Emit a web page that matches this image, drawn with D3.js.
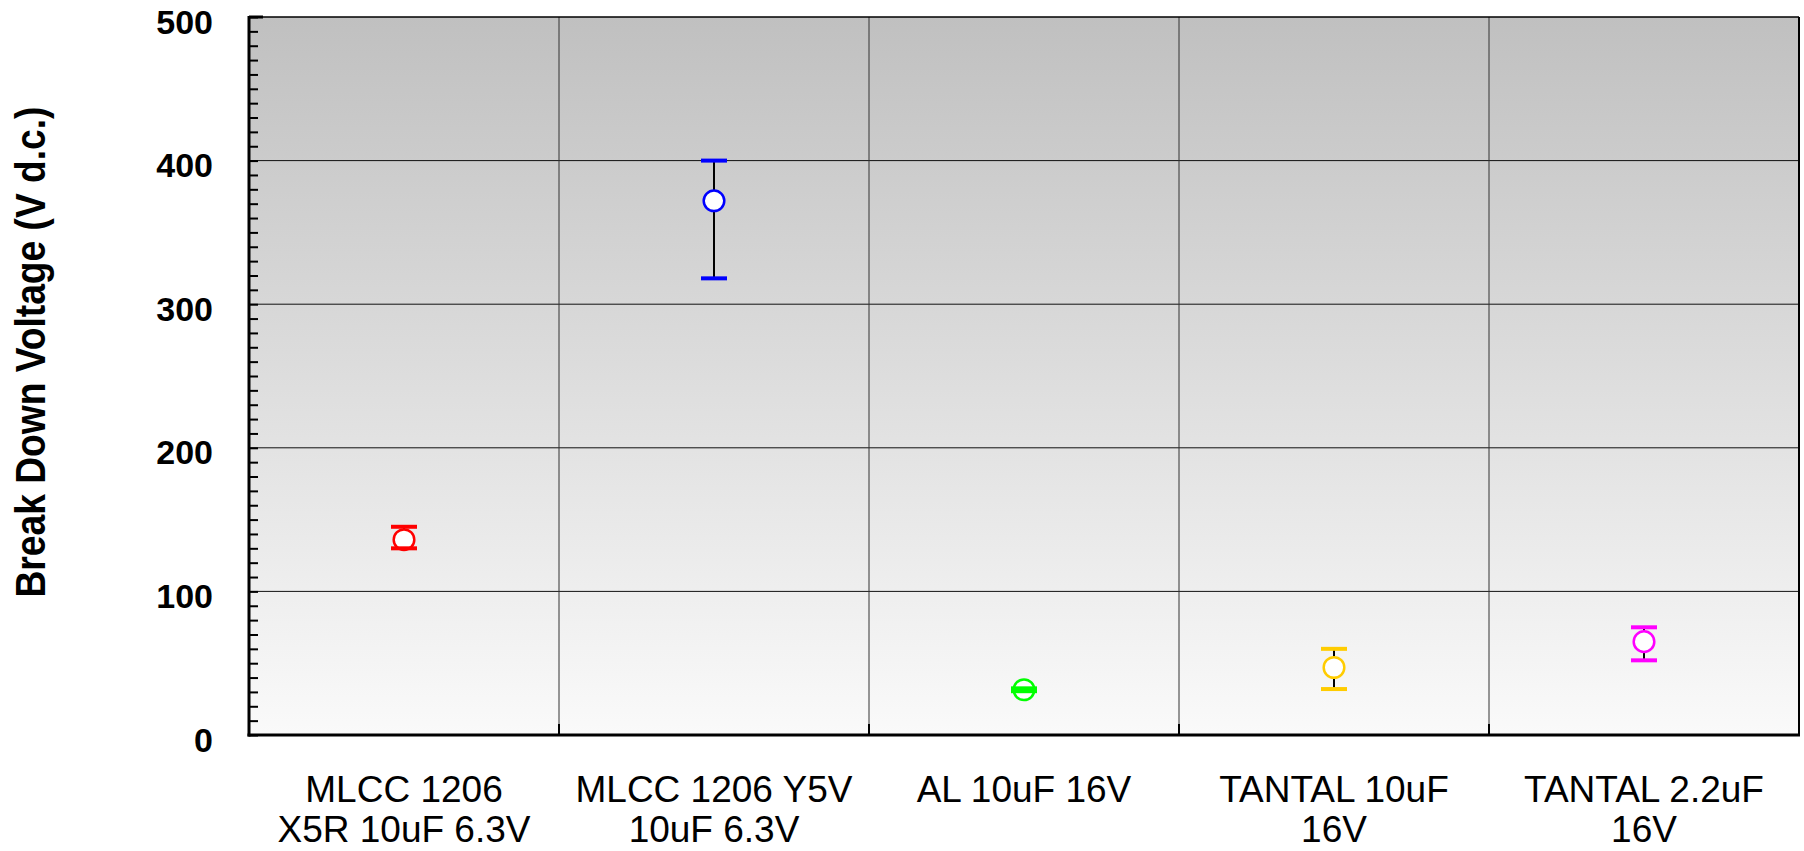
<!DOCTYPE html>
<html>
<head>
<meta charset="utf-8">
<script src="https://cdn.jsdelivr.net/npm/d3@7"></script>
<style>
  html, body { margin: 0; padding: 0; background: #ffffff; }
  svg { display: block; }
</style>
</head>
<body>
<svg id="chart" width="1804" height="851"></svg>
<script>
// ---- data ----
const categories = [
  "MLCC 1206\nX5R 10uF 6.3V",
  "MLCC 1206 Y5V\n10uF 6.3V",
  "AL 10uF 16V",
  "TANTAL 10uF\n16V",
  "TANTAL 2.2uF\n16V"
];
const means = [136, 372, 31.5, 47, 65];
const highs = [145, 400, 32.5, 60, 75];
const lows  = [130, 318, 30.5, 32, 52];
const seriesColors = ["#ff0000", "#0000ff", "#00ff00", "#ffcc00", "#ff00ff"];
const yTicks = [0, 100, 200, 300, 400, 500];
const yTitle = "Break Down Voltage (V d.c.)";

// ---- layout ----
const L = 249, R = 1799, T = 17, B = 735;
const svg = d3.select("#chart");

const x = d3.scaleBand().domain(categories).range([L, R]).padding(0);
const y = d3.scaleLinear().domain([0, 500]).range([B, T]);

// background gradient
const defs = svg.append("defs");
const grad = defs.append("linearGradient").attr("id", "bg")
  .attr("x1", 0).attr("y1", 0).attr("x2", 0).attr("y2", 1);
grad.append("stop").attr("offset", "0%").attr("stop-color", "#c0c0c0");
grad.append("stop").attr("offset", "100%").attr("stop-color", "#fafafa");

svg.append("rect").attr("x", L).attr("y", T).attr("width", R - L).attr("height", B - T)
  .attr("fill", "url(#bg)");

// horizontal gridlines
svg.append("g").selectAll("line").data(yTicks.filter(d => d > 0 && d < 500)).join("line")
  .attr("x1", L).attr("x2", R)
  .attr("y1", d => y(d)).attr("y2", d => y(d))
  .attr("stroke", "#111").attr("stroke-width", 1);

// vertical gridlines at category boundaries
const bounds = categories.slice(1).map(c => x(c));
svg.append("g").selectAll("line").data(bounds).join("line")
  .attr("x1", d => d).attr("x2", d => d)
  .attr("y1", T).attr("y2", B)
  .attr("stroke", "#333").attr("stroke-width", 1);
// small ticks at bottom
svg.append("g").selectAll("line").data(bounds).join("line")
  .attr("x1", d => d).attr("x2", d => d)
  .attr("y1", B - 11).attr("y2", B)
  .attr("stroke", "#000").attr("stroke-width", 2);

// minor ticks (inside, left)
const minor = d3.axisRight(y).tickValues(d3.range(0, 501, 10)).tickSize(9).tickFormat("");
const mg = svg.append("g").attr("transform", `translate(${L},0)`).call(minor);
mg.select(".domain").remove();
mg.selectAll("line").attr("stroke", "#000").attr("stroke-width", 2);
// top major tick
svg.append("line").attr("x1", L).attr("x2", L + 14).attr("y1", y(500)).attr("y2", y(500))
  .attr("stroke", "#000").attr("stroke-width", 3);

// y-axis labels
const yAxis = d3.axisLeft(y).tickValues(yTicks).tickSize(0).tickPadding(36);
const yg = svg.append("g").attr("transform", `translate(${L},0)`).call(yAxis);
yg.select(".domain").remove();
yg.selectAll("text")
  .attr("dy", "16px")
  .attr("fill", "#000")
  .style("font-family", "'Liberation Sans', Arial, sans-serif")
  .style("font-weight", "bold")
  .style("font-size", "34px");

// frame
svg.append("line").attr("x1", L).attr("x2", R).attr("y1", T).attr("y2", T)
  .attr("stroke", "#000").attr("stroke-width", 1.5);
svg.append("line").attr("x1", R).attr("x2", R).attr("y1", T).attr("y2", B)
  .attr("stroke", "#000").attr("stroke-width", 2);
svg.append("line").attr("x1", L).attr("x2", L).attr("y1", T - 1).attr("y2", B + 1.5)
  .attr("stroke", "#000").attr("stroke-width", 3);
svg.append("line").attr("x1", L - 1.5).attr("x2", R + 1).attr("y1", B).attr("y2", B)
  .attr("stroke", "#000").attr("stroke-width", 3);

// x labels
const xg = svg.append("g");
categories.forEach((c, i) => {
  const cx = x(c) + x.bandwidth() / 2;
  const lines = c.split("\n");
  const t = xg.append("text")
    .attr("text-anchor", "middle")
    .attr("fill", "#000")
    .style("font-family", "'Liberation Sans', Arial, sans-serif")
    .style("font-size", "37px");
  lines.forEach((ln, j) => {
    t.append("tspan").attr("x", cx).attr("y", B + 67 + j * 40).text(ln);
  });
});

// error bars
const cw = 26;
const eg = svg.append("g");
categories.forEach((c, i) => {
  const cx = x(c) + x.bandwidth() / 2;
  eg.append("line").attr("x1", cx).attr("x2", cx)
    .attr("y1", y(highs[i])).attr("y2", y(lows[i]))
    .attr("stroke", "#000").attr("stroke-width", 2);
  eg.append("circle").attr("cx", cx).attr("cy", y(means[i])).attr("r", 10.3)
    .attr("fill", "#fff").attr("stroke", seriesColors[i]).attr("stroke-width", 2.5);
  [highs[i], lows[i]].forEach(v => {
    eg.append("line").attr("x1", cx - cw / 2).attr("x2", cx + cw / 2)
      .attr("y1", y(v)).attr("y2", y(v))
      .attr("stroke", seriesColors[i]).attr("stroke-width", 4);
  });
});

// y title
svg.append("text")
  .attr("transform", `translate(45,352) rotate(-90)`)
  .attr("text-anchor", "middle")
  .attr("fill", "#000")
  .attr("textLength", 491)
  .attr("lengthAdjust", "spacingAndGlyphs")
  .style("font-family", "'Liberation Sans', Arial, sans-serif")
  .style("font-weight", "bold")
  .style("font-size", "42px")
  .text(yTitle);
</script>
</body>
</html>
